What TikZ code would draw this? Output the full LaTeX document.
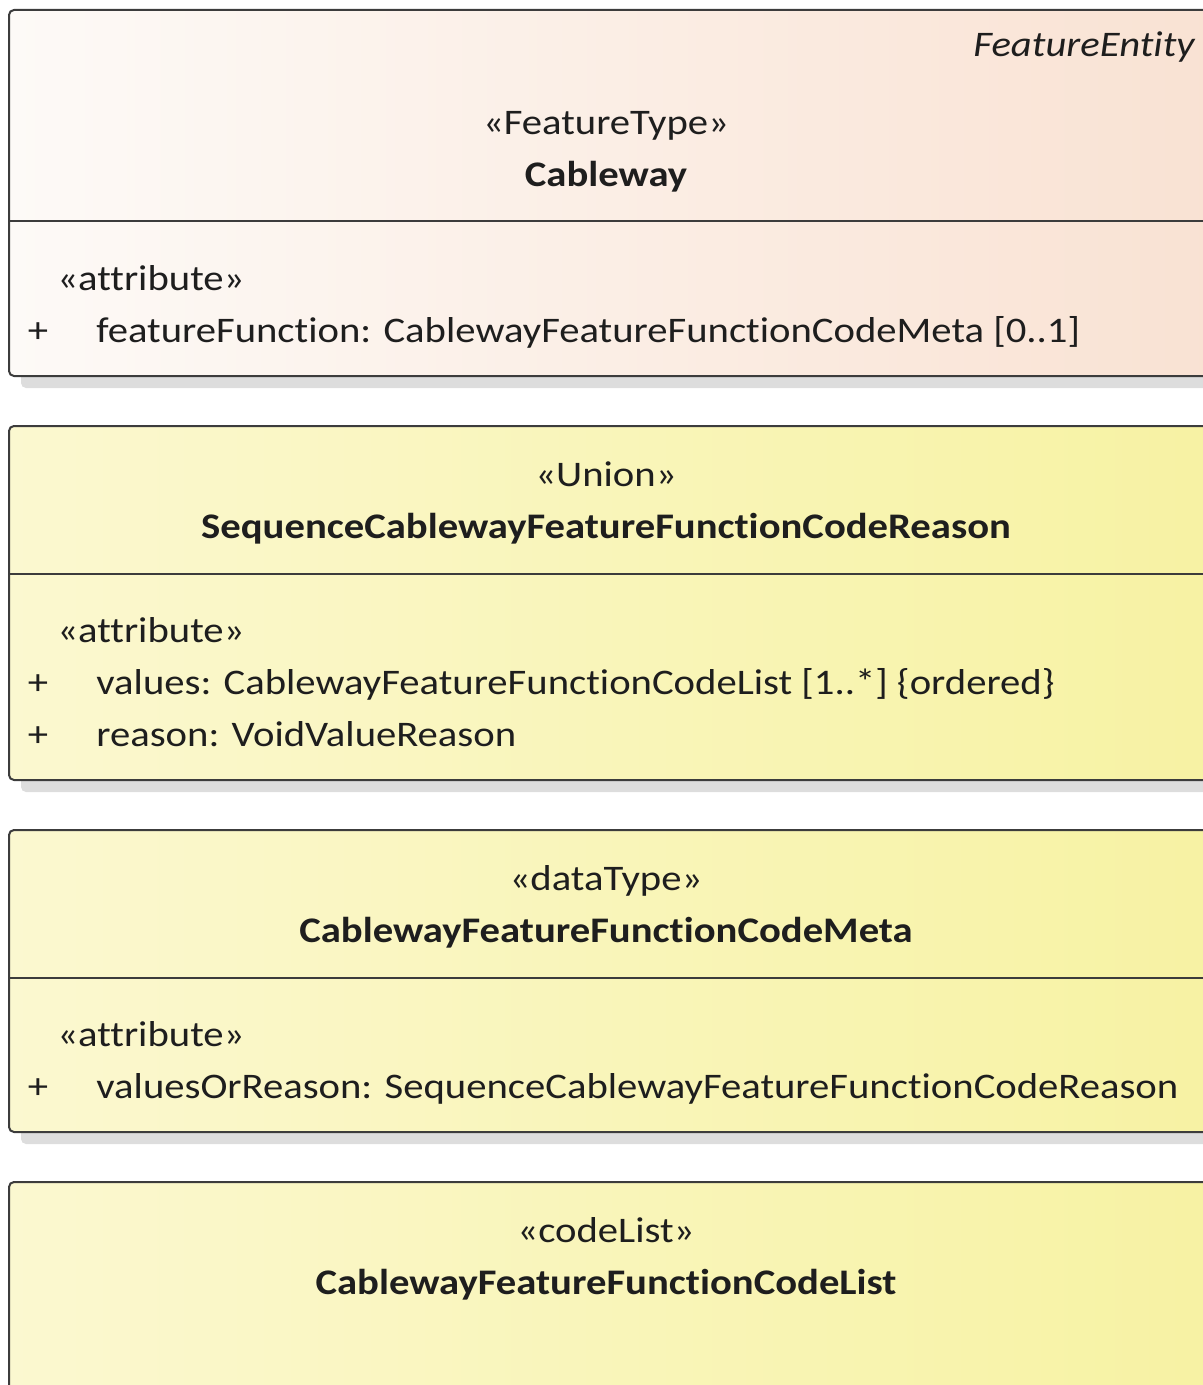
\documentclass[tikz,border=0pt]{standalone}
\usepackage{fontspec}
\setmainfont{Carlito}[FakeStretch=1.13, Ligatures=NoCommon]

\definecolor{peachLeft}{RGB}{253,250,247}
\definecolor{peachRight}{RGB}{249,226,211}
\definecolor{lemonLeft}{RGB}{251,248,208}
\definecolor{lemonRight}{RGB}{247,242,163}
\definecolor{umlBorder}{RGB}{60,60,60}
\definecolor{umlShadow}{RGB}{221,221,221}
\definecolor{umlInk}{RGB}{30,30,30}

\tikzset{
  classBox/.style={draw=umlBorder, line width=1pt, rounded corners=2.5pt},
  shadowBox/.style={fill=umlShadow, rounded corners=2.5pt},
  sepLine/.style={draw=umlBorder, line width=1pt},
  stereo/.style={anchor=mid, inner sep=0pt, yshift=-3.5pt, text=umlInk, font=\fontsize{18}{22}\selectfont},
  classTitle/.style={stereo, font=\fontsize{18}{22}\selectfont\bfseries},
  attrText/.style={stereo, anchor=mid west},
}

\begin{document}
\begin{tikzpicture}[x=0.5pt, y=-0.5pt]
  \useasboundingbox (0,0) rectangle (1203,1385);
  \clip (0,0) rectangle (1203,1385);

  % Cableway
  \fill[shadowBox] (21,22) rectangle (1230,388);
  \draw[classBox, left color=peachLeft, right color=peachRight] (9,10) rectangle (1215,376);
  \draw[sepLine] (9,221) -- (1215,221);
  \node[stereo, anchor=mid east, font=\fontsize{18}{22}\selectfont\itshape] (cablewayParent) at (1195,45) {FeatureEntity};
  \node[stereo] (cablewayStereo) at (606,123) {«FeatureType»};
  \node[classTitle] (cablewayName) at (606,175) {Cableway};
  \node[attrText] (cablewayTag) at (57,279) {«attribute»};
  \node[stereo] (cablewayPlusA) at (38,331) {+};
  \node[attrText] (cablewayAttrA) at (96,331) {featureFunction: CablewayFeatureFunctionCodeMeta [0..1]};

  % SequenceCablewayFeatureFunctionCodeReason
  \fill[shadowBox] (21,438) rectangle (1230,792);
  \draw[classBox, left color=lemonLeft, right color=lemonRight] (9,426) rectangle (1215,780);
  \draw[sepLine] (9,574) -- (1215,574);
  \node[stereo] (unionStereo) at (606,475) {«Union»};
  \node[classTitle] (unionName) at (606,527) {SequenceCablewayFeatureFunctionCodeReason};
  \node[attrText] (unionTag) at (57,631) {«attribute»};
  \node[stereo] (unionPlusA) at (38,683) {+};
  \node[attrText] (unionAttrA) at (96,683) {values: CablewayFeatureFunctionCodeList [1..*] \{ordered\}};
  \node[stereo] (unionPlusB) at (38,735) {+};
  \node[attrText] (unionAttrB) at (96,735) {reason: VoidValueReason};

  % CablewayFeatureFunctionCodeMeta
  \fill[shadowBox] (21,842) rectangle (1230,1144);
  \draw[classBox, left color=lemonLeft, right color=lemonRight] (9,830) rectangle (1215,1132);
  \draw[sepLine] (9,978) -- (1215,978);
  \node[stereo] (metaStereo) at (606,879) {«dataType»};
  \node[classTitle] (metaName) at (606,931) {CablewayFeatureFunctionCodeMeta};
  \node[attrText] (metaTag) at (57,1035) {«attribute»};
  \node[stereo] (metaPlusA) at (38,1087) {+};
  \node[attrText] (metaAttrA) at (96,1087) {valuesOrReason: SequenceCablewayFeatureFunctionCodeReason};

  % CablewayFeatureFunctionCodeList
  \draw[classBox, left color=lemonLeft, right color=lemonRight] (9,1182) rectangle (1215,1420);
  \node[stereo] (listStereo) at (606,1231) {«codeList»};
  \node[classTitle] (listName) at (606,1283) {CablewayFeatureFunctionCodeList};
\end{tikzpicture}
\end{document}
